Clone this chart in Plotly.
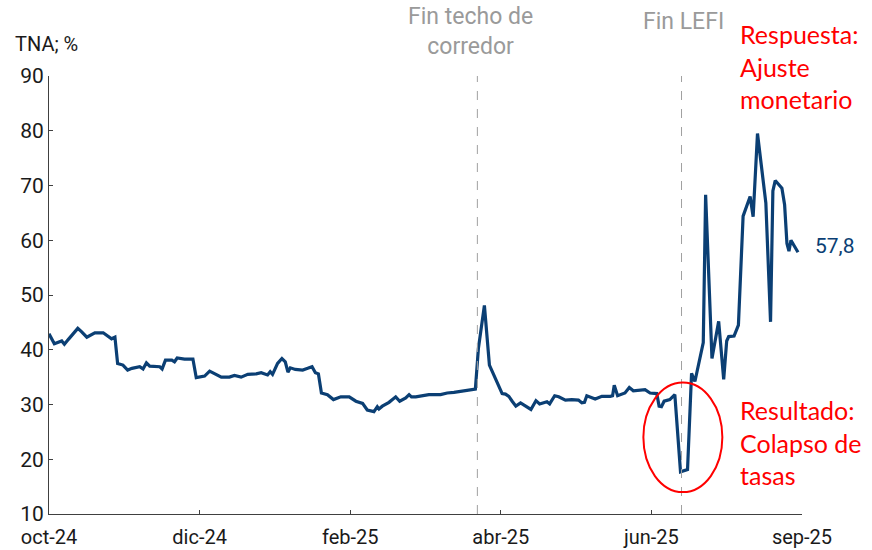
import plotly.graph_objects as go

# Trading-day index (0 = start of oct-24) and TNA (%) values
dia = [0, 1.6, 3.8, 4.6, 5.8, 8.6, 9.7, 11.3, 13.7, 16.2, 18.7, 19.7, 20.5, 22.1, 23.5, 24.8,
       27.1, 28.1, 29.1, 30.1, 33.1, 33.8, 34.8, 36.7, 37.5, 38.3, 40.5, 43.0, 44.0, 46.5,
       48.0, 49.5, 51.5, 53.9, 55.4, 57.4, 59.4, 61.9, 63.4, 65.3, 66.1, 66.8, 68.3, 69.6,
       70.6, 71.4, 72.1, 73.6, 75.8, 77.3, 78.6, 79.6, 80.5, 81.4, 83.2, 85.0, 86.5, 87.2,
       89.7, 91.7, 93.7, 95.1, 97.1, 98.1, 98.6, 99.6, 101.6, 103.6, 104.8, 106.6, 107.6,
       108.3, 109.6, 111.5, 113.5, 117.0, 119.0, 121.0, 123.0, 125.4, 127.4, 128.3, 130.1,
       131.6, 133.4, 135.4, 136.4, 137.4, 138.4, 139.5, 140.9, 142.3, 144.0, 145.5, 146.6,
       148.8, 149.6, 151.1, 152.3, 154.3, 156.2, 158.2, 159.2, 160.0, 160.7, 163.2, 165.2,
       167.7, 168.4, 168.9, 169.9, 172.1, 173.4, 174.6, 178.1, 179.6, 181.6, 182.3, 183.0,
       183.8, 185.5, 187.0, 188.7, 190.8, 192.0, 193.0, 195.5, 196.2, 198.1, 200.1, 201.6,
       202.5, 203.1, 204.7, 206.0, 207.4, 209.5, 210.4, 211.7, 214.2, 215.6, 216.3, 217.0,
       219.0, 219.8, 220.5, 221.1, 221.7, 223.8]
tna = [42.9, 41.1, 41.6, 41.0, 41.9, 43.9, 43.3, 42.3, 43.1, 43.1, 42.0, 42.3, 37.5, 37.2,
       36.3, 36.6, 36.9, 36.5, 37.6, 37.0, 36.9, 36.5, 38.1, 38.1, 37.8, 38.5, 38.3, 38.3,
       34.9, 35.2, 36.1, 35.6, 35.0, 35.0, 35.3, 35.0, 35.5, 35.6, 35.8, 35.4, 36.0, 35.5,
       37.5, 38.4, 37.8, 35.9, 36.7, 36.4, 36.3, 36.6, 36.9, 35.8, 35.6, 32.1, 31.8, 30.9,
       31.2, 31.4, 31.4, 30.6, 30.2, 29.0, 28.7, 29.6, 29.2, 29.7, 30.4, 31.4, 30.6, 31.2,
       31.8, 31.4, 31.4, 31.6, 31.8, 31.8, 32.1, 32.2, 32.4, 32.6, 32.8, 40.2, 48.1, 37.2,
       34.7, 32.0, 31.9, 31.5, 30.6, 29.7, 30.3, 29.7, 29.1, 30.7, 30.1, 30.5, 30.1, 31.6,
       31.4, 30.8, 30.9, 30.8, 30.3, 30.4, 31.6, 31.0, 31.5, 31.5, 31.6, 33.5, 31.6, 32.1,
       33.1, 32.5, 32.7, 32.1, 32.0, 29.7, 29.6, 30.6, 30.9, 31.8, 17.7, 18.1, 35.7, 34.2,
       41.3, 68.3, 38.4, 45.2, 34.6, 41.6, 42.4, 42.5, 44.5, 64.4, 68.0, 64.3, 79.5, 66.8,
       45.1, 69.0, 70.9, 69.5, 66.5, 59.4, 58.0, 60.0, 57.8]

tick_idx = [0, 45, 90, 135, 180, 225]
tick_lab = ["oct-24", "dic-24", "feb-25", "abr-25", "jun-25", "sep-25"]
eventos_idx = [128.0, 189.0]
ultimo = "57,8"

BLUE = "#0B3F74"
GRAY = "#9A9A9A"
RED = "#FF0000"

fig = go.Figure()
fig.add_trace(go.Scatter(x=dia, y=tna, mode="lines",
                         line=dict(color=BLUE, width=3.2), hoverinfo="skip"))

for ev in eventos_idx:
    fig.add_shape(type="line", x0=ev, x1=ev, y0=10, y1=90, xref="x", yref="y",
                  line=dict(color="#A0A0A0", width=1, dash="dash"))

# red ellipse around the collapse
fig.add_shape(type="circle", xref="x", yref="y", x0=177.6, x1=201.2, y0=14.0, y1=34.0,
              line=dict(color=RED, width=2))

fig.update_layout(
    width=872, height=550,
    margin=dict(l=49, r=70, t=76, b=36),
    paper_bgcolor="white", plot_bgcolor="white",
    showlegend=False,
    font=dict(family="Roboto", size=21, color="#1A1A1A"),
    xaxis=dict(range=[0, 225], tickmode="array", tickvals=tick_idx, ticktext=tick_lab,
               showgrid=False, zeroline=False, showline=True, linecolor="#404040",
               linewidth=1, ticks="inside", ticklen=4, tickcolor="#404040",
               ticklabelstandoff=5,
               automargin=False, tickfont=dict(size=20, color="#1A1A1A")),
    yaxis=dict(range=[10, 90], tickmode="array", tickvals=list(range(10, 91, 10)),
               showgrid=False, zeroline=False, showline=True, linecolor="#404040",
               linewidth=1, ticks="inside", ticklen=4, tickcolor="#404040",
               automargin=False, tickfont=dict(size=21, color="#1A1A1A")),
)

ann = [
    dict(text="TNA; %", x=(13 - 49) / 753, y=(514 - 44) / 438, xanchor="left",
         yanchor="middle", font=dict(size=20, color="#1A1A1A")),
    dict(text="Fin techo de<br>corredor", x=(471 - 49) / 753, y=(514 - 31) / 438,
         xanchor="center", yanchor="middle", font=dict(size=23, color=GRAY)),
    dict(text="Fin LEFI", x=(683 - 49) / 753, y=(514 - 22) / 438, xanchor="center",
         yanchor="middle", font=dict(size=23, color=GRAY)),
    dict(text="Respuesta:<br>Ajuste<br>monetario", x=(738 - 49) / 753, y=(514 - 66) / 438,
         xanchor="left", yanchor="middle", align="left",
         font=dict(family="Lato", size=25, color=RED)),
    dict(text="Resultado:<br>Colapso de<br>tasas", x=(738 - 49) / 753, y=(514 - 442) / 438,
         xanchor="left", yanchor="middle", align="left",
         font=dict(family="Lato", size=25, color=RED)),
    dict(text=ultimo, x=(813 - 49) / 753, y=(514 - 246) / 438, xanchor="left",
         yanchor="middle", font=dict(size=21, color=BLUE)),
]
for a in ann:
    fig.add_annotation(xref="paper", yref="paper", showarrow=False, **a)

fig.write_html("out.html", config={"displayModeBar": False},
               post_script="document.body.style.margin='0';document.body.style.overflow='hidden';")
